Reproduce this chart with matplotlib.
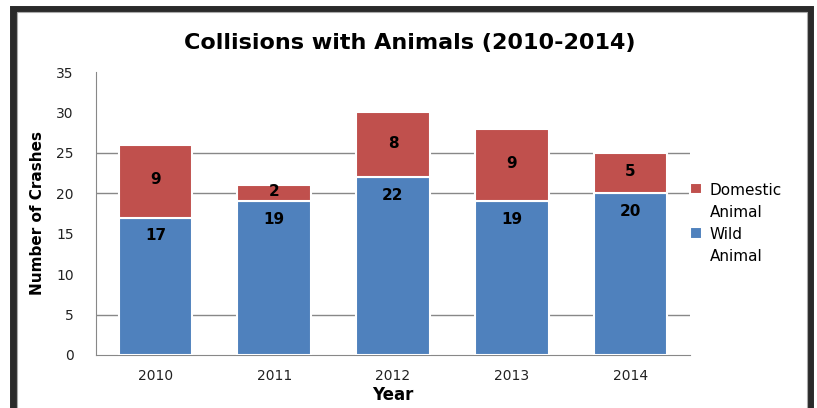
import matplotlib.pyplot as plt
from matplotlib.patches import Rectangle

years = ['2010', '2011', '2012', '2013', '2014']
wild = [17, 19, 22, 19, 20]
domestic = [9, 2, 8, 9, 5]

blue = '#4F81BD'
red = '#C0504D'

fig = plt.figure(figsize=(8.17, 4.08), dpi=100)
ax = fig.add_axes([0.1175, 0.13, 0.727, 0.6935])

x = range(len(years))
ax.bar(x, wild, width=0.62, color=blue, edgecolor='white', linewidth=1.5, label='Wild\nAnimal', zorder=3)
ax.bar(x, domestic, bottom=wild, width=0.62, color=red, edgecolor='white', linewidth=1.5,
       label='Domestic\nAnimal', zorder=3)

for i in x:
    # wild labels sit just inside the top of the blue segment
    ax.annotate(str(wild[i]), (i, wild[i]), xytext=(0, -18), textcoords='offset pixels',
                ha='center', va='center', fontsize=11, fontweight='bold', zorder=4)
    ax.text(i, wild[i] + domestic[i] / 2 + 0.2, str(domestic[i]), ha='center', va='center', fontsize=11,
            fontweight='bold', zorder=4)

ax.set_xlim(-0.5, 4.5)
ax.set_ylim(0, 35)
ax.set_yticks(range(0, 36, 5))
ax.set_xticks(list(x))
ax.set_xticklabels(years)
ax.grid(axis='y', color='#888888', linewidth=1, zorder=0)
# only some gridlines show in the original
for val, gl in zip(range(0, 36, 5), ax.yaxis.get_gridlines()):
    if val not in (5, 20, 25):
        gl.set_visible(False)
ax.tick_params(axis='both', length=0, labelsize=10, colors='#222222', pad=10)
ax.tick_params(axis='y', pad=16)
for s in ['top', 'right']:
    ax.spines[s].set_visible(False)
for s in ['left', 'bottom']:
    ax.spines[s].set_color('#888888')

ax.set_xlabel('Year', fontsize=12, fontweight='bold', labelpad=2)
ax.set_ylabel('Number of Crashes', fontsize=11, fontweight='bold', labelpad=8)
fig.text(0.502, 0.895, 'Collisions with Animals (2010-2014)', ha='center', va='center', fontsize=16, fontweight='bold')

handles, labels = ax.get_legend_handles_labels()
leg = ax.legend(handles[::-1], labels[::-1], loc='center left', bbox_to_anchor=(0.99, 0.465), frameon=False,
                fontsize=11, handlelength=0.8, handleheight=0.8, handletextpad=0.5, labelspacing=0.45,
                borderaxespad=0.0)
for t in leg.get_texts():
    t.set_linespacing(1.6)
# put the square next to the first line of each label
for col in leg._legend_handle_box.get_children():
    for row in col.get_children():
        row.align = 'top'

# dark frame around the picture
fig.patches.append(Rectangle((0.0165, -0.05), 0.9755, 1.028, transform=fig.transFigure,
                             fill=False, edgecolor='#2a2a2a', linewidth=5))
fig.patches.append(Rectangle((0.0205, -0.05), 0.9675, 1.02, transform=fig.transFigure,
                             fill=False, edgecolor='#aaaaaa', linewidth=0.8))

fig.savefig('out.png', dpi=100)
